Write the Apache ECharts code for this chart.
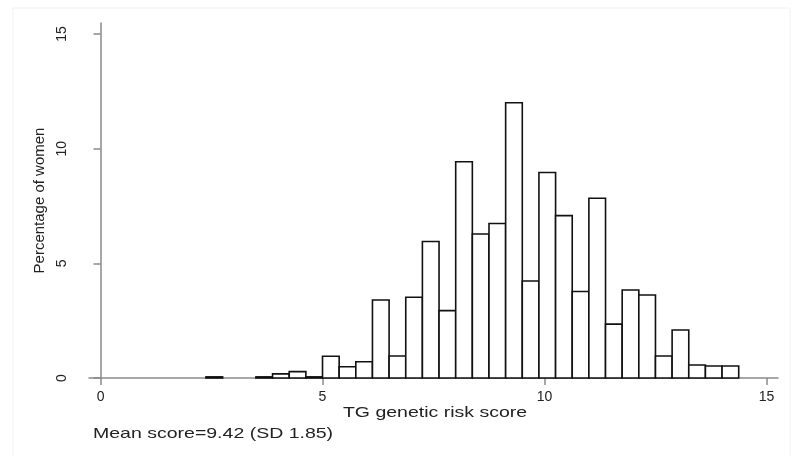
<!DOCTYPE html>
<html>
<head>
<meta charset="utf-8">
<script src="https://cdn.jsdelivr.net/npm/echarts@6/dist/echarts.min.js"></script>
<style>
  html, body { margin: 0; padding: 0; background: #fff; }
  #chart { width: 794px; height: 456px; }
</style>
</head>
<body>
<div id="chart"></div>
<script>
// histogram bins: left edge of each bin, width 0.375
var binWidth = 0.375;
var binStart = [2.375, 2.75, 3.125, 3.5, 3.875, 4.25, 4.625, 5.0, 5.375, 5.75,
    6.125, 6.5, 6.875, 7.25, 7.625, 8.0, 8.375, 8.75, 9.125, 9.5,
    9.875, 10.25, 10.625, 11.0, 11.375, 11.75, 12.125, 12.5, 12.875, 13.25,
    13.625, 14.0];
// percentage of women in each bin
var percent = [0.05, 0, 0, 0.05, 0.18, 0.28, 0.05, 0.95, 0.49, 0.71,
    3.40, 0.96, 3.52, 5.95, 2.94, 9.43, 6.28, 6.74, 12.0, 4.23,
    8.96, 7.08, 3.77, 7.84, 2.35, 3.84, 3.62, 0.96, 2.09, 0.57,
    0.52, 0.52];
var xTicks = [0, 5, 10, 15];
var yTicks = [0, 5, 10, 15];
var xTitle = 'TG genetic risk score';
var yTitle = 'Percentage of women';
var noteText = 'Mean score=9.42 (SD 1.85)';

var font = '"Liberation Sans", Arial, sans-serif';
var textColor = '#222';
var axisColor = '#8a8a8a';

var histData = binStart.map(function(s, i) {
    return [s, s + binWidth, percent[i]];
});

var chart = echarts.init(document.getElementById('chart'));

var option = {
    backgroundColor: '#fff',
    animation: false,
    grid: {
        left: 89,
        right: 16,
        top: 23,
        bottom: 78
    },
    xAxis: {
        type: 'value',
        min: -0.26,
        max: 15.26,
        splitLine: { show: false },
        axisLine: { show: true, lineStyle: { color: axisColor, width: 1.5 } },
        axisTick: { show: true, length: 7, customValues: xTicks, lineStyle: { color: axisColor, width: 1.5 } },
        axisLabel: { customValues: xTicks, margin: 12, fontSize: 14, color: textColor, fontFamily: font }
    },
    yAxis: {
        type: 'value',
        min: 0,
        max: 15.48,
        name: yTitle,
        nameLocation: 'middle',
        nameRotate: 90,
        nameGap: 42,
        nameTextStyle: { fontSize: 15, color: textColor, fontFamily: font },
        splitLine: { show: false },
        axisLine: { show: true, lineStyle: { color: axisColor, width: 1.5 } },
        axisTick: { show: true, length: 7, customValues: yTicks, lineStyle: { color: axisColor, width: 1.5 } },
        axisLabel: { customValues: yTicks, rotate: 90, margin: 20, fontSize: 14, color: textColor, fontFamily: font }
    },
    graphic: [
        {
            type: 'rect',
            shape: { x: 13, y: 8, width: 777, height: 450 },
            style: { fill: 'none', stroke: '#f2f2f2', lineWidth: 1 },
            silent: true
        },
        {
            type: 'text',
            x: 435,
            y: 413,
            scaleX: 1.3,
            style: {
                text: xTitle, fontSize: 15, fontFamily: font, fill: textColor,
                textAlign: 'center', textVerticalAlign: 'middle'
            }
        },
        {
            type: 'text',
            x: 93,
            y: 434,
            scaleX: 1.3,
            style: {
                text: noteText, fontSize: 15, fontFamily: font, fill: textColor,
                textAlign: 'left', textVerticalAlign: 'middle'
            }
        }
    ],
    series: [{
        type: 'custom',
        data: histData,
        encode: { x: [0, 1], y: 2 },
        renderItem: function(params, api) {
            var h = api.value(2);
            if (!h) return null;
            var topLeft = api.coord([api.value(0), h]);
            var bottomRight = api.coord([api.value(1), 0]);
            return {
                type: 'rect',
                shape: {
                    x: topLeft[0],
                    y: topLeft[1],
                    width: bottomRight[0] - topLeft[0],
                    height: bottomRight[1] - topLeft[1]
                },
                style: { fill: '#fff', stroke: '#111', lineWidth: 1.6 }
            };
        }
    }]
};

chart.setOption(option);
</script>
</body>
</html>
